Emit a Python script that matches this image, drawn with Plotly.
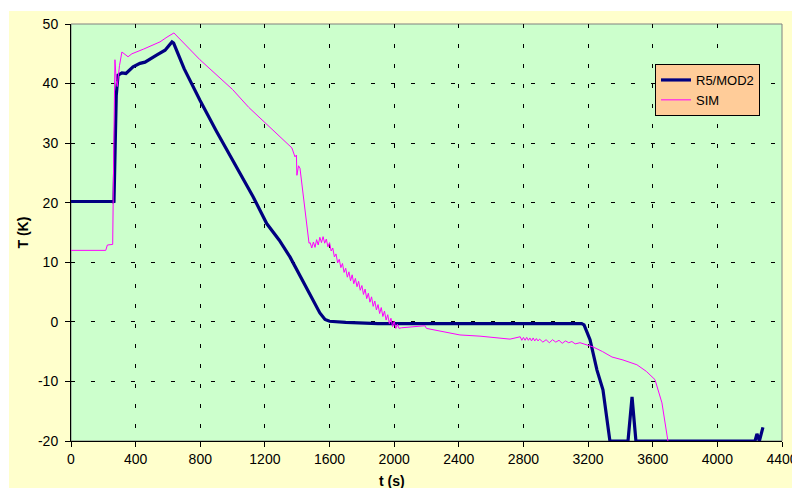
import plotly.graph_objects as go

# R5/MOD2 (thick dark blue)
r5_t = [0, 262, 266, 272, 280, 291, 315, 340, 384, 427, 458, 532, 582, 625, 635,
        700, 798, 900, 963, 1050, 1127, 1211, 1232, 1289, 1355, 1420, 1460, 1498,
        1540, 1572, 1600, 1700, 1900, 2500, 3160, 3175, 3212, 3255, 3292, 3335,
        3447, 3472, 3496, 4233, 4245, 4260, 4282]
r5_T = [20.2, 20.2, 20.0, 30.0, 38.0, 41.4, 41.8, 41.7, 42.8, 43.4, 43.6, 44.8, 45.6, 47.0, 46.8,
        42.5, 37.2, 32.0, 28.9, 24.6, 21.0, 16.5, 15.8, 13.7, 10.9, 7.6, 5.8, 3.7,
        1.5, 0.4, 0.1, -0.1, -0.3, -0.3, -0.3, -0.5, -3.0, -8.1, -11.4, -20.0,
        -20.0, -12.6, -20.0, -20.0, -18.8, -20.0, -17.7]

# SIM (thin magenta)
sim_t = [0, 215, 225, 258, 265, 272, 280, 286, 300, 315, 353, 377, 450, 551, 594, 637,
         798, 1000, 1100, 1231, 1300, 1367, 1386, 1395, 1398, 1408, 1417, 1429, 1448, 1460, 1473,
         1480, 1490, 1500, 1510, 1520, 1530, 1540, 1550, 1560, 1570, 1580, 1590, 1600,
         1610, 1620, 1630, 1640, 1650, 1660, 1670, 1680, 1690,
         1700, 1710, 1720, 1730, 1740, 1750, 1760, 1770, 1780, 1790, 1800,
         1810, 1820, 1830, 1840, 1850, 1860, 1870, 1880, 1890, 1900,
         1910, 1920, 1930, 1940, 1950, 1960, 1970, 1980, 1990, 2000,
         2010, 2020, 2030, 2045, 2190, 2200, 2300, 2407, 2531, 2717,
         2780, 2790, 2800, 2810, 2820, 2830, 2840, 2850, 2860, 2870, 2880, 2890,
         2900, 2920, 2940, 2960, 2980, 3000, 3020, 3040, 3060, 3080, 3100, 3120, 3150,
         3230, 3290, 3348, 3416, 3502, 3560, 3614, 3657, 3694]
sim_T = [12.0, 12.0, 12.9, 13.0, 30.0, 44.0, 40.5, 39.5, 43.0, 45.3, 44.5, 45.0, 45.8, 47.0, 47.8, 48.5,
         44.0, 39.0, 36.0, 32.7, 31.0, 29.2, 27.7, 28.0, 24.6, 26.2, 25.8, 23.3, 18.8, 15.9, 13.2,
         13.3, 12.4, 13.4, 12.5, 13.8, 12.9, 14.2, 13.3, 14.3, 13.2, 13.9, 12.6, 13.3,
         11.9, 12.4, 10.9, 11.4, 9.9, 10.5, 9.1, 9.8, 8.3,
         9.0, 7.5, 8.4, 6.9, 7.9, 6.4, 7.3, 5.9, 6.8, 5.3, 6.1,
         4.6, 5.5, 3.9, 4.8, 3.3, 4.2, 2.6, 3.5, 2.0, 2.9,
         1.4, 2.4, 0.9, 1.8, 0.3, 1.2, -0.3, 0.6, -0.8, 0.1,
         -1.1, -0.4, -1.1, -1.0, -0.65, -1.1, -1.6, -2.2, -2.4, -2.9,
         -2.5, -3.1, -2.6, -3.1, -2.6, -3.1, -2.7, -3.2, -2.7, -3.2, -2.8, -3.2,
         -2.9, -3.4, -3.0, -3.5, -3.0, -3.4, -3.1, -3.6, -3.2, -3.5, -3.3, -3.7, -3.5,
         -4.2, -5.0, -5.9, -6.4, -7.2, -8.3, -9.7, -13.6, -20.0]

x_ticks = [0, 400, 800, 1200, 1600, 2000, 2400, 2800, 3200, 3600, 4000, 4400]
y_ticks = [-20, -10, 0, 10, 20, 30, 40, 50]

FONT = "Liberation Sans, Arial, sans-serif"

fig = go.Figure()
fig.add_trace(go.Scatter(x=r5_t, y=r5_T, mode="lines", name="R5/MOD2",
                         line=dict(color="#000080", width=3.2)))
fig.add_trace(go.Scatter(x=sim_t, y=sim_T, mode="lines", name="SIM",
                         line=dict(color="#FF00FF", width=1)))

# page has an 8px body margin: figure origin sits at (8, 8) in the screenshot
OX, OY = 8, 8
W, H = 792, 480
L = 71 - OX
T = 24 - OY
R = W - (782 - OX)
B = H - (441 - OY)
pw, ph = W - L - R, H - T - B

def px_x(px):
    return (px - OX - L) / pw

def px_y(py):
    return (H - B - (py - OY)) / ph

axis_common = dict(showline=True, linecolor="black", linewidth=1,
                   ticks="outside", ticklen=5, tickcolor="black",
                   showgrid=True, gridcolor="black", gridwidth=1, griddash="4px,16px",
                   zeroline=False, tickfont=dict(family=FONT, size=14, color="black"))

fig.update_xaxes(range=[0, 4400], tickvals=x_ticks, ticktext=[str(v) for v in x_ticks],
                 **axis_common)
fig.update_yaxes(range=[-20, 50], tickvals=y_ticks, ticktext=[str(v) for v in y_ticks],
                 ticklabelstandoff=4, **axis_common)

shapes = [
    # plot area border (grey)
    dict(type="rect", xref="paper", yref="paper", x0=0, x1=1, y0=0, y1=1,
         line=dict(color="#808080", width=1), layer="below"),
    # thin white strips outside the yellow chart area (top 11px, left 9px)
    dict(type="rect", xref="paper", yref="paper", x0=px_x(0), x1=px_x(800),
         y0=px_y(11), y1=px_y(0), fillcolor="white", line=dict(width=0), layer="above"),
    dict(type="rect", xref="paper", yref="paper", x0=px_x(0), x1=px_x(9),
         y0=px_y(488), y1=px_y(0), fillcolor="white", line=dict(width=0), layer="above"),
]

annotations = [
    dict(text="<b>T (K)</b>", xref="paper", yref="paper", x=px_x(22), y=0.5,
         textangle=-90, showarrow=False, font=dict(family=FONT, size=14, color="black"),
         xanchor="center", yanchor="middle"),
    dict(text="<b>t (s)</b>", xref="paper", yref="paper", x=px_x(392), y=px_y(481),
         showarrow=False, font=dict(family=FONT, size=14, color="black"),
         xanchor="center", yanchor="middle"),
]

fig.update_layout(
    width=W, height=H,
    margin=dict(l=L, r=R, t=T, b=B, autoexpand=False),
    paper_bgcolor="#FFFFCC", plot_bgcolor="#CCFFCC",
    font=dict(family=FONT, size=13, color="black"),
    showlegend=True,
    legend=dict(x=px_x(655), y=px_y(64), xanchor="left", yanchor="top",
                bgcolor="#FFCC99", bordercolor="black", borderwidth=1,
                font=dict(family=FONT, size=13, color="black"),
                tracegroupgap=0, itemwidth=30),
    shapes=shapes,
    annotations=annotations,
)

fig.write_html("out.html")
